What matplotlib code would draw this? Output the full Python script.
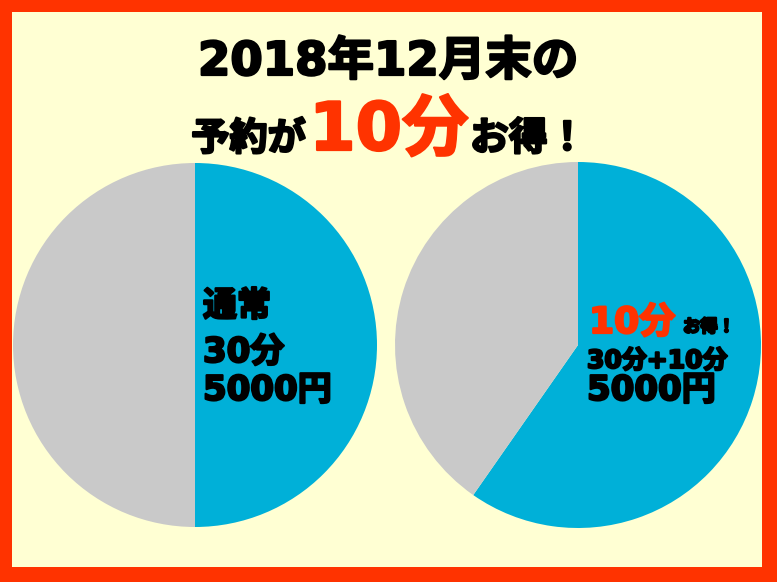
import matplotlib
matplotlib.use("Agg")
import matplotlib.pyplot as plt
import matplotlib.patheffects as pe
from matplotlib.patches import Rectangle

# DejaVu Sans Bold gives the wide digits, CJK glyphs fall back to Noto
plt.rcParams['font.family'] = ['DejaVu Sans', 'Noto Sans CJK JP']

# data
slice_names = ['予約分', 'その他']
normal_minutes = [30, 30]
bonus_minutes = [40, 27]
slice_colors = ['#00B0D8', '#C9C9C9']

title_line1 = '2018年12月末の'
title_pre, title_big, title_post = '予約が', '10分', 'お得！'
left_lines = ['通常', '30分', '5000円']
right_big, right_small = '10分', 'お得！'
right_lines = ['30分+10分', '5000円']

RED = '#FF3300'
BG = '#FFFFD3'
W, H = 777, 582

fig = plt.figure(figsize=(W / 100, H / 100), dpi=100)
fig.patch.set_facecolor(RED)


def fx(px):
    return px / W


def fy(py):
    return 1 - py / H


# yellow inner panel
fig.patches.append(Rectangle((fx(12), fy(567)), fx(762) - fx(12), fy(12) - fy(567),
                             transform=fig.transFigure, facecolor=BG, edgecolor='none', zorder=-5))


def draw_pie(cx, cy, r, values):
    ax = fig.add_axes([fx(cx - r), fy(cy + r), 2 * r / W, 2 * r / H])
    ax.pie(values, colors=slice_colors, startangle=90, counterclock=False, radius=1,
           wedgeprops=dict(linewidth=0))
    # pie() resets limits to +-1.25, so set them afterwards
    ax.set_xlim(-1, 1)
    ax.set_ylim(-1, 1)
    ax.axis('off')
    return ax


ax1 = draw_pie(195, 345, 182, normal_minutes)
ax2 = draw_pie(578, 345, 183, bonus_minutes)


def heavy(color):
    # thicken the bold font a little to get closer to the black gothic look
    return [pe.withStroke(linewidth=1.6, foreground=color)]


def label(x, y, s, size, color='black', ha='left'):
    fig.text(fx(x), fy(y), s, ha=ha, va='baseline', fontsize=size, fontweight='bold',
             color=color, path_effects=heavy(color))


# title
label(388, 75, title_line1, 33.5, ha='center')
label(306, 150, title_pre, 27.5, ha='right')
label(389, 150, title_big, 48, color=RED, ha='center')
label(470, 150, title_post, 28)

# left pie labels
for text, y in zip(left_lines, [316, 362, 400]):
    label(203, y, text, 24.5)

# right pie labels
label(589, 333, right_big, 26, color=RED)
label(683, 332, right_small, 12.5)
label(587, 368, right_lines[0], 18)
label(587, 400, right_lines[1], 24.5)

fig.savefig('out.png', dpi=100, facecolor=RED)
